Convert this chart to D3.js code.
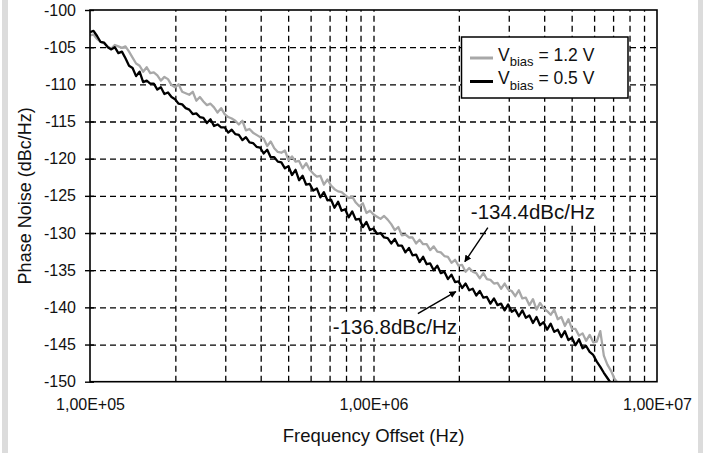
<!DOCTYPE html>
<html>
<head>
<meta charset="utf-8">
<script src="https://cdn.jsdelivr.net/npm/d3@7"></script>
<style>
  body { margin: 0; background: #fff; }
  svg { display: block; font-family: "Liberation Sans", Arial, sans-serif; }
</style>
</head>
<body>
<div id="chart"></div>
<script>
//========================
//   Data
//========================

//Frequency offset of each sweep point (kHz)
var freqKHz = [100, 102.9, 105.9, 109.0, 112.2, 115.5, 118.9, 122.3, 125.9, 129.6,
  133.4, 137.3, 141.3, 145.4, 149.6, 154.0, 158.5, 163.1, 167.9, 172.8,
  177.8, 183.0, 188.4, 193.9, 199.5, 205.4, 211.4, 217.5, 223.9, 230.4,
  237.1, 244.1, 251.2, 258.5, 266.1, 273.8, 281.8, 290.1, 298.5, 307.3,
  316.2, 325.5, 335.0, 344.8, 354.8, 365.2, 375.8, 386.8, 398.1, 409.7,
  421.7, 434.0, 446.7, 459.7, 473.2, 487.0, 501.2, 515.8, 530.9, 546.4,
  562.3, 578.8, 595.7, 613.1, 631.0, 649.4, 668.3, 687.9, 707.9, 728.6,
  749.9, 771.8, 794.3, 817.5, 841.4, 866.0, 891.3, 917.3, 944.1, 971.6,
  1000, 1029, 1059, 1090, 1122, 1155, 1189, 1223, 1259, 1296,
  1334, 1373, 1413, 1454, 1496, 1540, 1585, 1631, 1679, 1728,
  1778, 1830, 1884, 1939, 1995, 2054, 2113, 2175, 2239, 2304,
  2371, 2441, 2512, 2585, 2661, 2738, 2818, 2901, 2985, 3073,
  3162, 3255, 3350, 3447, 3548, 3652, 3758, 3868, 3981, 4097,
  4217, 4340, 4467, 4597, 4732, 4870, 5012, 5158, 5309, 5464,
  5623, 5788, 5957, 6131, 6310, 6494, 6683, 6879, 7079, 7286];

//Phase noise, Vbias = 1.2 V (dBc/Hz)
var noiseHigh = [-103.4, -103.3, -103.9, -104.3, -104.5, -104.9, -105.2, -104.7, -104.9, -105.1,
  -104.9, -105.6, -106.4, -107.2, -107.5, -108.3, -107.7, -108.5, -108.4, -108.8,
  -109.5, -109.0, -109.3, -110.1, -110.4, -110.0, -111.0, -111.2, -111.4, -111.0,
  -112.2, -111.7, -112.3, -112.8, -112.6, -113.1, -113.8, -113.2, -114.0, -114.4,
  -114.6, -114.9, -115.4, -114.9, -116.2, -116.0, -116.5, -116.8, -117.1, -117.3,
  -118.3, -117.7, -118.6, -119.1, -119.2, -118.9, -120.2, -119.7, -120.4, -120.3,
  -121.3, -120.6, -121.5, -122.0, -122.4, -122.3, -123.5, -122.8, -123.6, -124.1,
  -124.4, -124.5, -124.9, -125.3, -125.1, -125.9, -126.4, -126.0, -127.3, -127.0,
  -127.5, -127.8, -128.1, -127.7, -128.2, -128.8, -129.6, -129.2, -130.3, -130.2,
  -130.6, -130.6, -131.4, -130.9, -131.5, -131.5, -132.3, -131.8, -132.5, -132.6,
  -133.1, -133.2, -134.0, -133.6, -134.4, -134.3, -135.2, -134.7, -135.2, -135.4,
  -136.1, -135.4, -136.2, -136.3, -136.8, -136.7, -137.5, -136.8, -137.6, -137.8,
  -138.5, -137.7, -138.8, -138.7, -139.7, -138.9, -140.3, -139.4, -140.1, -140.5,
  -141.0, -140.3, -141.6, -141.3, -142.5, -141.6, -142.9, -142.9, -143.8, -143.5,
  -144.5, -143.7, -144.7, -144.6, -143.2, -146.5, -147.7, -148.5, -149.6, -150.2];

//Phase noise, Vbias = 0.5 V (dBc/Hz)
var noiseLow = [-103.0, -102.8, -103.5, -104.3, -104.4, -105.0, -105.3, -105.0, -105.8, -105.6,
  -106.5, -107.5, -107.8, -108.9, -108.3, -109.7, -109.5, -109.9, -109.9, -110.7,
  -110.4, -111.3, -111.1, -111.7, -112.0, -112.6, -112.7, -113.2, -113.4, -114.0,
  -113.9, -114.4, -114.5, -115.2, -114.7, -115.6, -115.4, -115.8, -115.8, -116.5,
  -116.1, -116.7, -116.8, -117.5, -117.1, -117.8, -117.9, -118.4, -118.5, -119.3,
  -118.8, -119.8, -119.8, -120.4, -120.5, -121.3, -121.0, -122.2, -121.5, -122.9,
  -122.3, -123.5, -123.4, -124.3, -124.0, -125.2, -124.5, -125.6, -125.5, -126.6,
  -125.8, -127.0, -126.8, -127.9, -127.1, -128.2, -128.1, -129.2, -128.5, -129.6,
  -129.4, -130.1, -130.0, -130.6, -130.7, -131.4, -130.8, -131.7, -131.7, -132.6,
  -132.0, -133.0, -132.9, -133.9, -133.2, -134.2, -134.1, -135.0, -134.4, -135.4,
  -135.2, -136.2, -135.6, -136.6, -136.5, -137.4, -136.8, -137.7, -137.5, -138.4,
  -137.8, -138.7, -138.6, -139.5, -138.8, -139.7, -139.5, -140.4, -139.6, -140.6,
  -140.3, -141.2, -140.4, -141.4, -141.1, -142.1, -141.3, -142.4, -142.0, -143.0,
  -142.2, -143.3, -143.0, -144.0, -143.2, -144.4, -144.1, -145.1, -144.3, -145.5,
  -145.2, -146.0, -146.4, -147.3, -148.0, -148.8, -149.5, -150.2, -150.9, -151.4];

var seriesLabels = ["1.2 V", "0.5 V"];
var yTicks = [-150, -145, -140, -135, -130, -125, -120, -115, -110, -105, -100];
var xTicks = [1e5, 1e6, 1e7];
var xTickLabels = ["1,00E+05", "1,00E+06", "1,00E+07"];
var xGrid = [2e5, 3e5, 4e5, 5e5, 6e5, 7e5, 8e5, 9e5, 1e6, 2e6, 3e6, 4e6, 5e6, 6e6, 7e6, 8e6, 9e6];

//Marked values at 2 MHz
var noteFreq = [2e6, 2e6];
var noteValue = [-134.4, -136.8];
var noteLabels = ["-134.4dBc/Hz", "-136.8dBc/Hz"];

//========================
//   Canvas and scales
//========================
var width = 705, height = 453;
var margin = {top: 10, right: 48, bottom: 71.3, left: 90};

var svg = d3.select("#chart").append("svg")
  .attr("width", width)
  .attr("height", height);

//Light grey strips at the page edges
svg.append("rect").attr("x", 2).attr("y", 0).attr("width", 6).attr("height", height).attr("fill", "#dcdcdc");
svg.append("rect").attr("x", 698).attr("y", 0).attr("width", 5).attr("height", height).attr("fill", "#dcdcdc");

var x = d3.scaleLog().domain([1e5, 1e7]).range([margin.left, width - margin.right]);
var y = d3.scaleLinear().domain([-150, -100]).range([height - margin.bottom, margin.top]);

var plotW = width - margin.right - margin.left;
var plotH = height - margin.bottom - margin.top;

//========================
//   Grid
//========================
//Horizontal dashed grid
svg.append("g")
  .attr("transform", "translate(" + margin.left + ",0)")
  .call(d3.axisLeft(y).tickValues(yTicks.slice(1, -1)).tickSize(-plotW).tickFormat(""))
  .call(function(g) { g.select(".domain").remove(); })
  .selectAll("line")
  .attr("stroke", "#000")
  .attr("stroke-width", 1.3)
  .attr("stroke-dasharray", "6,4");

//Vertical dashed grid
svg.append("g")
  .attr("transform", "translate(0," + (height - margin.bottom) + ")")
  .call(d3.axisBottom(x).tickValues(xGrid).tickSize(-plotH).tickFormat(""))
  .call(function(g) { g.select(".domain").remove(); })
  .selectAll("line")
  .attr("stroke", "#000")
  .attr("stroke-width", 1.3)
  .attr("stroke-dasharray", "6,4");

//========================
//   Curves
//========================
svg.append("clipPath").attr("id", "plot-clip")
  .append("rect")
  .attr("x", margin.left).attr("y", margin.top)
  .attr("width", plotW).attr("height", plotH);

var line = d3.line()
  .x(function(d, i) { return x(freqKHz[i] * 1e3); })
  .y(function(d) { return y(d); });

var curves = svg.append("g").attr("clip-path", "url(#plot-clip)");

curves.append("path")
  .attr("d", line(noiseHigh))
  .attr("fill", "none")
  .attr("stroke", "#a8a8a8")
  .attr("stroke-width", 2.3)
  .attr("stroke-linejoin", "round");

curves.append("path")
  .attr("d", line(noiseLow))
  .attr("fill", "none")
  .attr("stroke", "#000")
  .attr("stroke-width", 2.3)
  .attr("stroke-linejoin", "round");

//========================
//   Axes and frame
//========================
svg.append("rect")
  .attr("x", margin.left).attr("y", margin.top)
  .attr("width", plotW).attr("height", plotH)
  .attr("fill", "none")
  .attr("stroke", "#000")
  .attr("stroke-width", 1.6);

var yAxis = svg.append("g")
  .attr("transform", "translate(" + margin.left + ",0)")
  .call(d3.axisLeft(y).tickValues(yTicks).tickSize(5).tickPadding(9));
yAxis.select(".domain").remove();
yAxis.selectAll("line").attr("stroke", "#000").attr("stroke-width", 1.4).attr("x2", -5).attr("x1", 4);
yAxis.selectAll("text").attr("font-size", 16).attr("fill", "#111")
  .text(function(d) { return String(d); });

var xAxis = svg.append("g")
  .attr("transform", "translate(0," + (height - margin.bottom) + ")")
  .call(d3.axisBottom(x).tickValues(xTicks).tickSize(0)
    .tickFormat(function(d, i) { return xTickLabels[i]; }));
xAxis.select(".domain").remove();
xAxis.selectAll("text").attr("font-size", 16).attr("fill", "#111").attr("y", 28.3).attr("dy", 0);

//Axis titles
svg.append("text")
  .attr("transform", "translate(31," + (margin.top + plotH / 2) + ") rotate(-90)")
  .attr("text-anchor", "middle")
  .attr("font-size", 18)
  .attr("fill", "#111")
  .text("Phase Noise (dBc/Hz)");

svg.append("text")
  .attr("x", margin.left + plotW / 2)
  .attr("y", 442)
  .attr("text-anchor", "middle")
  .attr("font-size", 18.5)
  .attr("fill", "#111")
  .text("Frequency Offset (Hz)");

//========================
//   Annotations
//========================
svg.append("defs").append("marker")
  .attr("id", "arrow")
  .attr("viewBox", "0 0 10 10")
  .attr("refX", 9).attr("refY", 5)
  .attr("markerWidth", 7).attr("markerHeight", 7)
  .attr("markerUnits", "userSpaceOnUse")
  .attr("orient", "auto")
  .append("path")
  .attr("d", "M0,0L10,5L0,10Z")
  .attr("fill", "#000");

//offsets of arrow tail, arrow tip and text from the marked point
var noteStyle = [
  {tail: [29, -38], tip: [6, -4], text: [12, -47]},
  {tail: [-41, 30], tip: [-3, 8], text: [-126, 50.5]}
];

noteLabels.forEach(function(label, i) {
  var px = x(noteFreq[i]), py = y(noteValue[i]);
  var s = noteStyle[i];
  var bg = svg.append("rect").attr("fill", "#fff");
  var t = svg.append("text")
    .attr("x", px + s.text[0]).attr("y", py + s.text[1])
    .attr("font-size", 20.5)
    .attr("fill", "#111")
    .text(label);
  //white box behind the label hides the grid
  var bb = t.node().getBBox();
  bg.attr("x", bb.x - 2).attr("y", bb.y)
    .attr("width", bb.width + 4).attr("height", bb.height);
  svg.append("line")
    .attr("x1", px + s.tail[0]).attr("y1", py + s.tail[1])
    .attr("x2", px + s.tip[0]).attr("y2", py + s.tip[1])
    .attr("stroke", "#000")
    .attr("stroke-width", 1.4)
    .attr("marker-end", "url(#arrow)");
});

//========================
//   Legend
//========================
var legend = svg.append("g");
legend.append("rect")
  .attr("x", 461.5).attr("y", 37)
  .attr("width", 166.5).attr("height", 61)
  .attr("fill", "#fff")
  .attr("stroke", "#000")
  .attr("stroke-width", 1.5);

var legendColors = ["#a8a8a8", "#000"];
seriesLabels.forEach(function(label, i) {
  var ly = 58 + i * 23.5;
  legend.append("line")
    .attr("x1", 470).attr("x2", 493)
    .attr("y1", ly).attr("y2", ly)
    .attr("stroke", legendColors[i])
    .attr("stroke-width", 3);
  var t = legend.append("text")
    .attr("x", 498).attr("y", ly + 2.5)
    .attr("font-size", 17.5)
    .attr("fill", "#111");
  t.append("tspan").text("V");
  t.append("tspan").attr("font-size", 13).attr("dy", 5.5).text("bias");
  t.append("tspan").attr("dy", -5.5).text(" = " + label);
});
</script>
</body>
</html>
